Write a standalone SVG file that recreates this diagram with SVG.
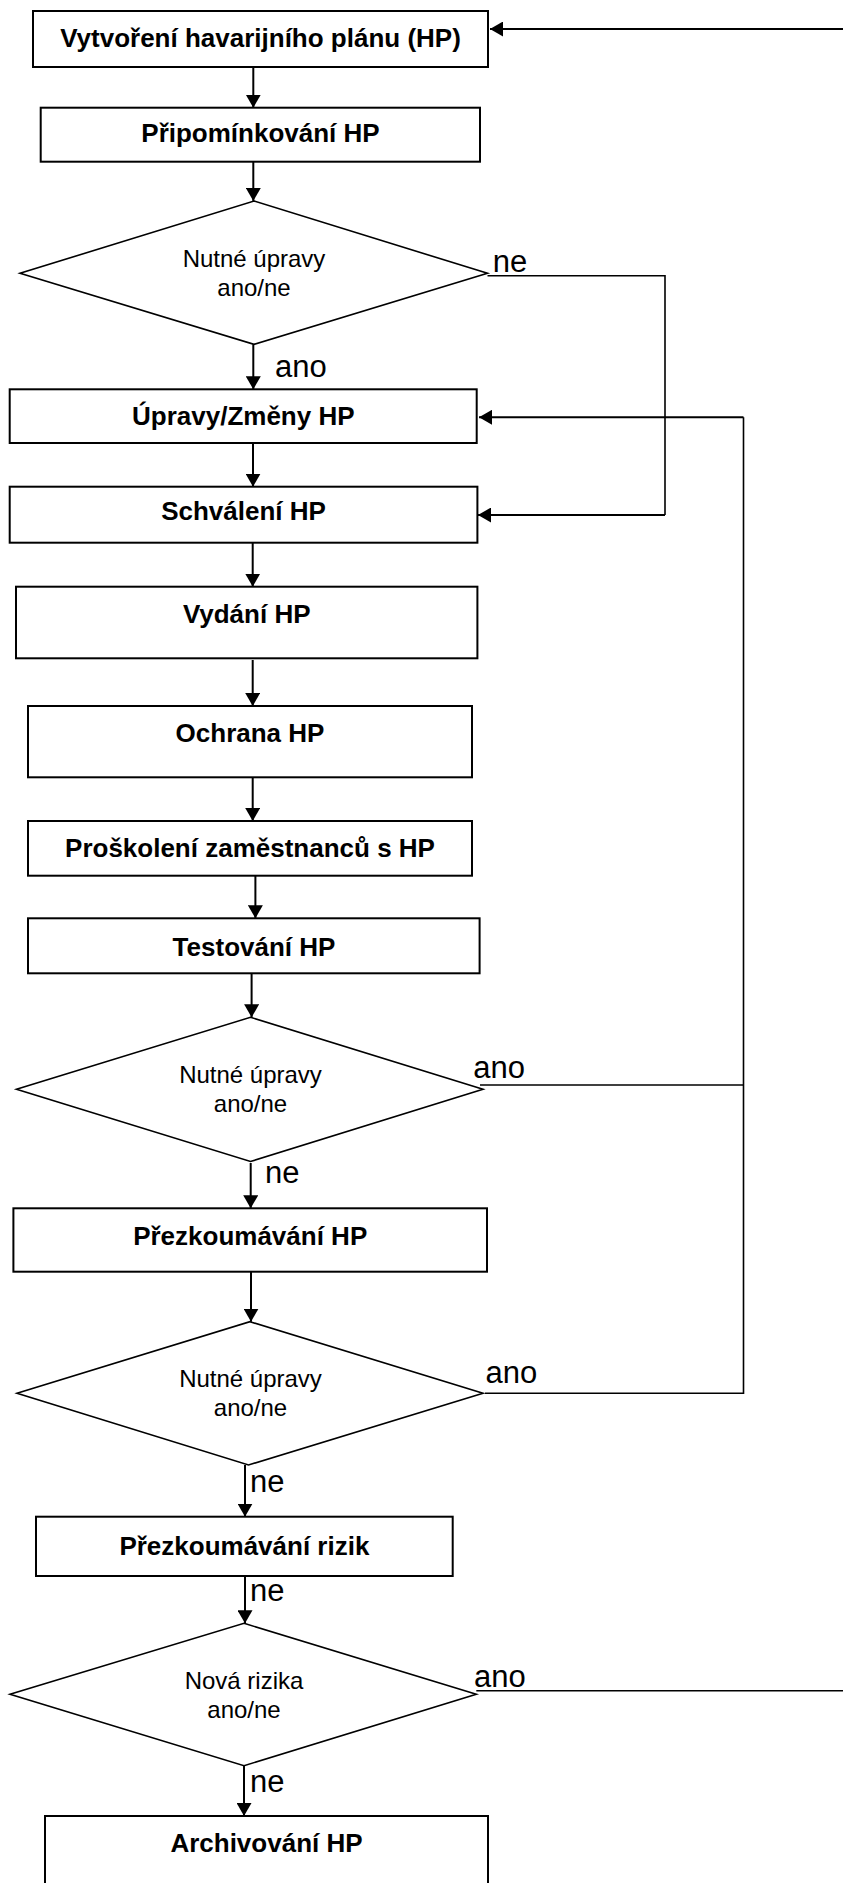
<svg xmlns="http://www.w3.org/2000/svg" width="843" height="1883" viewBox="0 0 843 1883">
<style>
.box{fill:#fff;stroke:#000;stroke-width:2}
.dia{fill:#fff;stroke:#000;stroke-width:1.6}
.bt{font-family:"Liberation Sans",Arial,sans-serif;font-weight:bold;font-size:26px;text-anchor:middle;fill:#000}
.dt{font-family:"Liberation Sans",Arial,sans-serif;font-size:24px;text-anchor:middle;fill:#000}
.lb{font-family:"Liberation Sans",Arial,sans-serif;font-size:31px;fill:#000}
.ln{fill:none;stroke:#000;stroke-width:2}
.lt{fill:none;stroke:#000;stroke-width:1.6}
</style>
<defs>
<marker id="ah" viewBox="0 0 13 15" refX="13" refY="7.5" markerWidth="13" markerHeight="15" markerUnits="userSpaceOnUse" orient="auto">
<path d="M0,0 L13,7.5 L0,15 Z" fill="#000"/>
</marker>
</defs>
<rect width="843" height="1883" fill="#fff"/>
<g id="n1"><rect class="box" x="33" y="11" width="455" height="56"/><text class="bt" x="260.5" y="47">Vytvoření havarijního plánu (HP)</text></g>
<g id="n2"><rect class="box" x="40.7" y="107.7" width="439.3" height="54"/><text class="bt" x="260.5" y="142">Připomínkování HP</text></g>
<g id="d1"><polygon class="dia" points="254,201 487.5,273.3 254,344.3 20,273.3"/><text class="dt" x="254" y="267">Nutné úpravy</text><text class="dt" x="254" y="296">ano/ne</text></g>
<g id="n3"><rect class="box" x="9.7" y="389.3" width="467" height="53.7"/><text class="bt" x="243.3" y="425">Úpravy/Změny HP</text></g>
<g id="n4"><rect class="box" x="9.7" y="486.7" width="467.7" height="56"/><text class="bt" x="243.5" y="520">Schválení HP</text></g>
<g id="n5"><rect class="box" x="16" y="586.7" width="461.4" height="71.6"/><text class="bt" x="246.7" y="623">Vydání HP</text></g>
<g id="n6"><rect class="box" x="28" y="706" width="444" height="71.3"/><text class="bt" x="250" y="742">Ochrana HP</text></g>
<g id="n7"><rect class="box" x="28" y="821" width="444" height="54.7"/><text class="bt" x="250" y="857">Proškolení zaměstnanců s HP</text></g>
<g id="n8"><rect class="box" x="28" y="918.3" width="451.6" height="55"/><text class="bt" x="254" y="956">Testování HP</text></g>
<g id="d2"><polygon class="dia" points="250.5,1017.3 483,1089.3 250.5,1161.5 16.5,1089.3"/><text class="dt" x="250.5" y="1083">Nutné úpravy</text><text class="dt" x="250.5" y="1112">ano/ne</text></g>
<g id="n9"><rect class="box" x="13.4" y="1208.3" width="473.6" height="63.4"/><text class="bt" x="250.2" y="1245">Přezkoumávání HP</text></g>
<g id="d3"><polygon class="dia" points="250,1321.7 483,1393.3 248.5,1465 17,1393.3"/><text class="dt" x="250.5" y="1387">Nutné úpravy</text><text class="dt" x="250.5" y="1416">ano/ne</text></g>
<g id="n10"><rect class="box" x="36" y="1516.7" width="416.7" height="59.3"/><text class="bt" x="244.4" y="1555">Přezkoumávání rizik</text></g>
<g id="d4"><polygon class="dia" points="244,1623.3 476.3,1694.3 244,1765.7 10,1694.3"/><text class="dt" x="244" y="1688.5">Nová rizika</text><text class="dt" x="244" y="1717.5">ano/ne</text></g>
<g id="n11"><rect class="box" x="45" y="1816" width="443" height="100"/><text class="bt" x="266.5" y="1852">Archivování HP</text></g>
<g id="connectors">
<line class="ln" x1="253.3" y1="67" x2="253.3" y2="107.7" marker-end="url(#ah)"/>
<line class="ln" x1="253.3" y1="162" x2="253.3" y2="201" marker-end="url(#ah)"/>
<line class="ln" x1="253.3" y1="344.3" x2="253.3" y2="389.3" marker-end="url(#ah)"/>
<line class="ln" x1="253" y1="443" x2="253" y2="486.7" marker-end="url(#ah)"/>
<line class="ln" x1="252.7" y1="543" x2="252.7" y2="586.7" marker-end="url(#ah)"/>
<line class="ln" x1="252.7" y1="660" x2="252.7" y2="706" marker-end="url(#ah)"/>
<line class="ln" x1="252.7" y1="777.3" x2="252.7" y2="821" marker-end="url(#ah)"/>
<line class="ln" x1="255.4" y1="876" x2="255.4" y2="918.3" marker-end="url(#ah)"/>
<line class="ln" x1="251.6" y1="973.3" x2="251.6" y2="1017.3" marker-end="url(#ah)"/>
<line class="ln" x1="250.7" y1="1163" x2="250.7" y2="1208.3" marker-end="url(#ah)"/>
<line class="ln" x1="251" y1="1271.7" x2="251" y2="1321.7" marker-end="url(#ah)"/>
<line class="ln" x1="245" y1="1465" x2="245" y2="1516.7" marker-end="url(#ah)"/>
<line class="ln" x1="245" y1="1576" x2="245" y2="1623.3" marker-end="url(#ah)"/>
<line class="ln" x1="244" y1="1766" x2="244" y2="1816" marker-end="url(#ah)"/>
<line class="ln" x1="850" y1="29" x2="490" y2="29" marker-end="url(#ah)"/>
<polyline class="lt" points="487.5,275.7 665,275.7 665,515"/>
<line class="ln" x1="665" y1="515" x2="478" y2="515" marker-end="url(#ah)"/>
<line class="lt" x1="480" y1="1085" x2="743.5" y2="1085"/>
<polyline class="lt" points="485,1393.3 743.5,1393.3 743.5,417.3"/>
<line class="ln" x1="743.5" y1="417.3" x2="479" y2="417.3" marker-end="url(#ah)"/>
<line class="lt" x1="476.3" y1="1690.7" x2="850" y2="1690.7"/>
<text class="lb" x="492.7" y="271.7">ne</text>
<text class="lb" x="275" y="376.7">ano</text>
<text class="lb" x="473.3" y="1078.3">ano</text>
<text class="lb" x="265" y="1183">ne</text>
<text class="lb" x="485.5" y="1383.3">ano</text>
<text class="lb" x="250" y="1491.7">ne</text>
<text class="lb" x="250" y="1601">ne</text>
<text class="lb" x="474" y="1687.3">ano</text>
<text class="lb" x="250" y="1791.7">ne</text>
</g>
</svg>
